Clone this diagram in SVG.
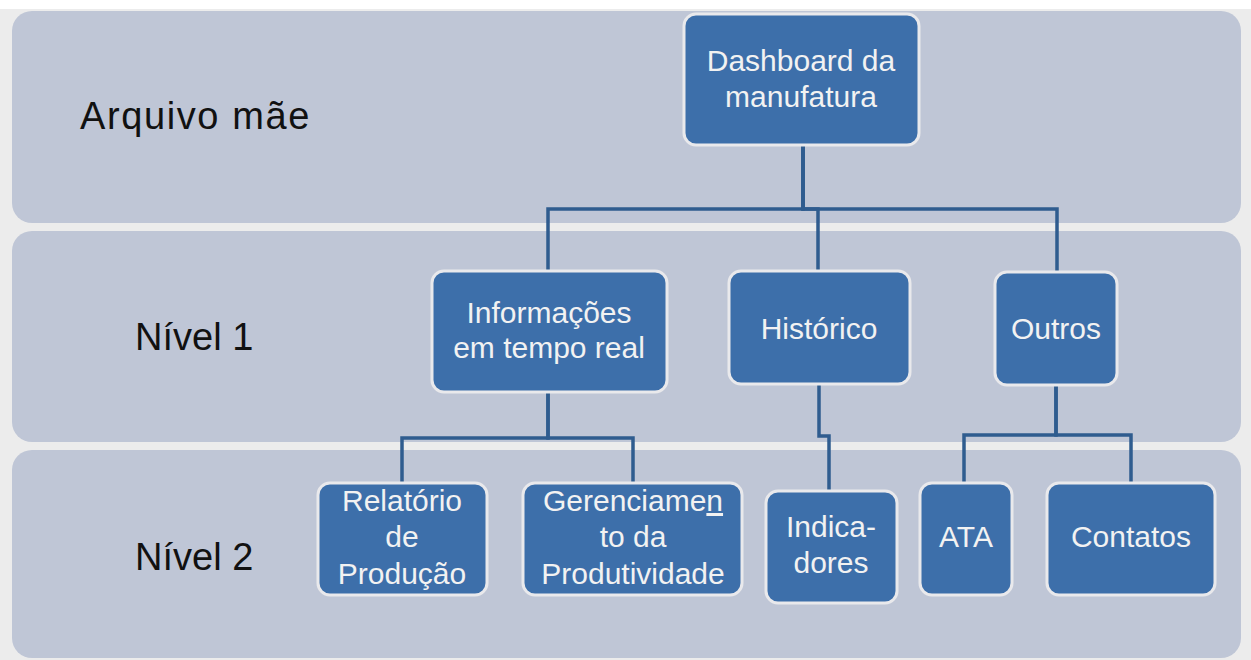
<svg xmlns="http://www.w3.org/2000/svg" width="1251" height="660" viewBox="0 0 1251 660">
<style>
.band{fill:#BFC6D6}
.node rect{fill:#3D6FAA;stroke:#E9E9EC;stroke-width:3}
.node text{fill:#F2F2F2;font-family:"Liberation Sans",Arial,sans-serif;font-size:30px;text-anchor:middle}
.lbl{fill:#111;font-family:"Liberation Sans",Arial,sans-serif;font-size:38px}
.conn path{fill:none;stroke:#2F5C8F;stroke-width:3.5}
</style>
<rect x="0" y="0" width="1251" height="660" fill="#ECECEC"/>
<rect x="0" y="0" width="1251" height="9" fill="#FFFFFF"/>
<g id="bands">
<rect class="band" x="12" y="11" width="1229" height="212" rx="20"/>
<rect class="band" x="12" y="231" width="1229" height="211" rx="20"/>
<rect class="band" x="12" y="450" width="1229" height="208" rx="20"/>
</g>
<g id="labels">
<text class="lbl" x="80" y="129" letter-spacing="1.6">Arquivo mãe</text>
<text class="lbl" x="135" y="350">Nível 1</text>
<text class="lbl" x="135" y="570">Nível 2</text>
</g>
<g id="connectors" class="conn">
<path d="M803 145 V209 H548 V271"/>
<path d="M803 145 V209 H818 V271"/>
<path d="M803 145 V209 H1057 V272"/>
<path d="M548 392 V438 H402 V483"/>
<path d="M548 392 V438 H633 V483"/>
<path d="M819 384 V436 H829 V491"/>
<path d="M1056 385 V435 H964 V483"/>
<path d="M1056 385 V435 H1131 V483"/>
</g>
<g id="n-dashboard" class="node">
<rect x="684" y="14" width="235" height="131" rx="12"/>
<text x="801" y="71">Dashboard da</text>
<text x="801" y="107">manufatura</text>
</g>
<g id="n-info" class="node">
<rect x="432" y="271" width="235" height="121" rx="12"/>
<text x="549" y="323">Informações</text>
<text x="549" y="358">em tempo real</text>
</g>
<g id="n-historico" class="node">
<rect x="729" y="271" width="181" height="113" rx="12"/>
<text x="819" y="339">Histórico</text>
</g>
<g id="n-outros" class="node">
<rect x="995" y="272" width="122" height="113" rx="12"/>
<text x="1056" y="339">Outros</text>
</g>
<g id="n-relatorio" class="node">
<rect x="318" y="483" width="169" height="112" rx="12"/>
<text x="402" y="511">Relatório</text>
<text x="402" y="547">de</text>
<text x="402" y="584">Produção</text>
</g>
<g id="n-gerenciamento" class="node">
<rect x="523" y="483" width="219" height="112" rx="12"/>
<text x="633" y="511">Gerenciame<tspan text-decoration="underline">n</tspan></text>
<text x="633" y="547">to da</text>
<text x="633" y="584">Produtividade</text>
</g>
<g id="n-indicadores" class="node">
<rect x="766" y="491" width="131" height="112" rx="12"/>
<text x="831" y="537">Indica-</text>
<text x="831" y="573">dores</text>
</g>
<g id="n-ata" class="node">
<rect x="920" y="483" width="92" height="112" rx="12"/>
<text x="966" y="547">ATA</text>
</g>
<g id="n-contatos" class="node">
<rect x="1047" y="483" width="168" height="112" rx="12"/>
<text x="1131" y="547">Contatos</text>
</g>
</svg>
